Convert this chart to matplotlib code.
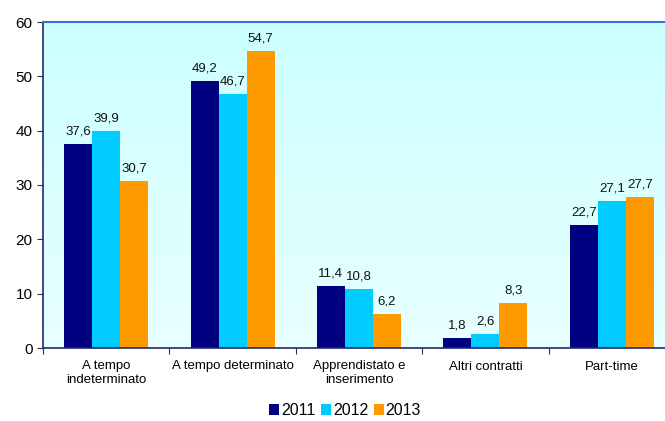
import numpy as np
import matplotlib.pyplot as plt
from matplotlib.colors import LinearSegmentedColormap

plt.rcParams['font.family'] = ['Liberation Sans', 'DejaVu Sans']

categories = ['A tempo\nindeterminato', 'A tempo determinato',
              'Apprendistato e\ninserimento', 'Altri contratti', 'Part-time']
years = ['2011', '2012', '2013']
v2011 = [37.6, 49.2, 11.4, 1.8, 22.7]
v2012 = [39.9, 46.7, 10.8, 2.6, 27.1]
v2013 = [30.7, 54.7, 6.2, 8.3, 27.7]
colors = ['#000080', '#00CCFF', '#FF9900']

fig = plt.figure(figsize=(6.65, 4.21), dpi=100)
# plot area runs a little past the right edge of the figure
ax = fig.add_axes([43 / 665, 73 / 421, 632 / 665, 326 / 421])

# light cyan background, fading slightly toward the bottom
cmap = LinearSegmentedColormap.from_list('bg', ['#E8FFFF', '#CCFFFF'])
grad = np.linspace(0, 1, 256).reshape(-1, 1)
ax.imshow(grad, aspect='auto', cmap=cmap, origin='lower',
          extent=[0, 5, 0, 60], zorder=0)

x = np.arange(len(categories)) + 0.5
w = 0.222
for i, (vals, c, yr) in enumerate(zip([v2011, v2012, v2013], colors, years)):
    pos = x + (i - 1) * w
    ax.bar(pos, vals, width=w, color=c, label=yr, zorder=2)
    for p, v in zip(pos, vals):
        ax.text(p, v + 1.2, f'{v:.1f}'.replace('.', ','), ha='center',
                va='bottom', fontsize=9.5, color='#111111', zorder=3)

ax.set_xlim(0, 5)
ax.set_ylim(0, 60)
ax.set_yticks(range(0, 61, 10))
ax.tick_params(axis='y', labelsize=11, length=4, direction='out',
               color='#333333')
ax.set_xticks(range(0, 6), minor=False)
ax.set_xticklabels([''] * 6)
ax.set_xticks(x, minor=True)
ax.set_xticklabels(categories, minor=True, fontsize=9.5)
ax.tick_params(axis='x', which='minor', length=0, pad=9)
ax.tick_params(axis='x', which='major', length=4, color='#333333')

ax.spines['left'].set_color('#1F2A6B')
ax.spines['left'].set_linewidth(1.2)
ax.spines['bottom'].set_color('#1F2A6B')
ax.spines['bottom'].set_linewidth(1.2)
ax.spines['top'].set_color('#3D6FE0')
ax.spines['top'].set_linewidth(1.5)
ax.spines['right'].set_visible(False)

fig.legend(loc='lower center', bbox_to_anchor=(345 / 665, -0.012), ncol=3,
           frameon=False, fontsize=11.5, handlelength=0.65, handleheight=0.75,
           handletextpad=0.1, columnspacing=0.35, borderaxespad=0.1)

fig.savefig('out.png', dpi=100)
